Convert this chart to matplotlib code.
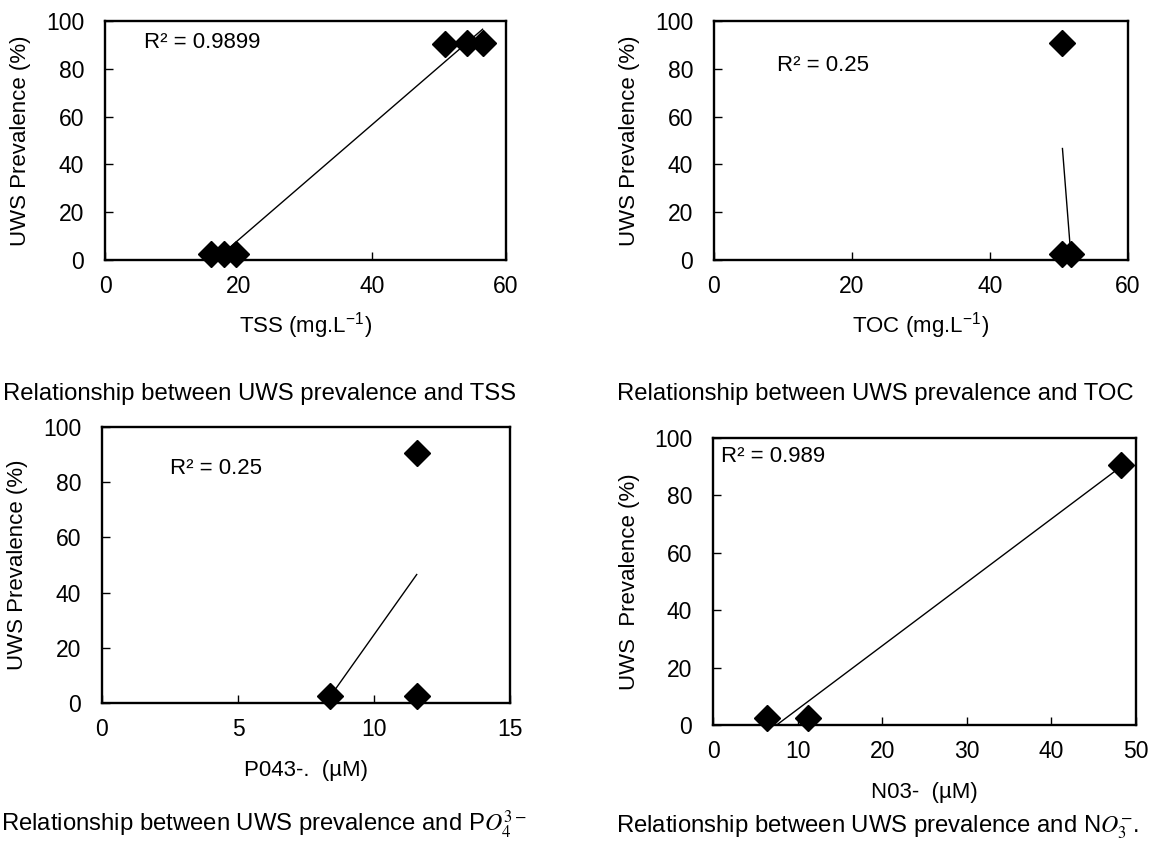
import numpy as np
import matplotlib
matplotlib.use("Agg")
import matplotlib.pyplot as plt

plt.rcParams['font.family'] = ['Liberation Sans', 'DejaVu Sans']
plt.rcParams['mathtext.fontset'] = 'stix'

# data
tss = [15.8, 17.8, 19.6, 50.8, 54.2, 56.5]
tss_uws = [2.5, 2.5, 2.5, 90.3, 90.8, 90.8]

toc = [50.5, 50.5, 51.7]
toc_uws = [90.8, 2.5, 2.5]

po4 = [8.4, 11.57, 11.57]
po4_uws = [2.5, 90.6, 2.5]

no3 = [6.4, 11.2, 48.2]
no3_uws = [2.5, 2.5, 90.6]

W, H = 1152, 842
fig = plt.figure(figsize=(W / 100, H / 100), dpi=100)


def add_ax(left, right, top, bottom):
    return fig.add_axes([left / W, 1 - bottom / H, (right - left) / W, (bottom - top) / H])


def panel(ax, x, y, xmax, xstep, xlabel, ylabel, r2, r2pos):
    x = np.array(x)
    y = np.array(y)
    # linear trendline over the data range
    k, b = np.polyfit(x, y, 1)
    xs = np.array([x.min(), x.max()])
    ax.plot(xs, k * xs + b, color='black', lw=1.0, zorder=2)
    ax.plot(x, y, 'D', color='black', ms=13, zorder=3, clip_on=False)
    ax.set_xlim(0, xmax)
    ax.set_ylim(0, 100)
    ax.set_xticks(np.arange(0, xmax + 0.01, xstep))
    ax.set_yticks(np.arange(0, 101, 20))
    ax.tick_params(axis='x', direction='in', length=5.5, width=1, labelsize=16.5, pad=11)
    ax.tick_params(axis='y', direction='in', length=5.5, width=1, labelsize=16.5, pad=15)
    for s in ax.spines.values():
        s.set_linewidth(1.7)
    # label positions in pixels from the spines
    bb = ax.get_position()
    axw, axh = bb.width * W, bb.height * H
    ax.set_xlabel(xlabel, fontsize=16, va='baseline')
    ax.xaxis.set_label_coords(0.5, -73 / axh)
    ax.set_ylabel(ylabel, fontsize=16, va='center', ha='center')
    ax.yaxis.set_label_coords(-84 / axw, 0.5)
    ax.text(r2pos[0], r2pos[1], r2, fontsize=16, va='center', ha='left')


ax1 = add_ax(105, 506, 21, 260)
panel(ax1, tss, tss_uws, 60, 20, r"TSS (mg.L$^{\mathregular{-1}}$)",
      "UWS Prevalence (%)", "R² = 0.9899", (5.8, 91))

ax2 = add_ax(714, 1128, 21, 260)
panel(ax2, toc, toc_uws, 60, 20, r"TOC (mg.L$^{\mathregular{-1}}$)",
      "UWS Prevalence (%)", "R² = 0.25", (9.1, 81.5))

ax3 = add_ax(102, 510, 427, 703)
panel(ax3, po4, po4_uws, 15, 5, "P043-.  (µM)",
      "UWS Prevalence (%)", "R² = 0.25", (2.5, 85))

ax4 = add_ax(713, 1136, 438, 725)
panel(ax4, no3, no3_uws, 50, 10, "N03-  (µM)",
      "UWS  Prevalence (%)", "R² = 0.989", (0.9, 93.4))

cap = 17.2
fig.text(3 / W, 1 - 400 / H, "Relationship between UWS prevalence and TSS", fontsize=cap, va='baseline')
fig.text(617 / W, 1 - 400 / H, "Relationship between UWS prevalence and TOC", fontsize=cap, va='baseline')
fig.text(1 / W, 1 - 832 / H, r"Relationship between UWS prevalence and P$O_4^{3-}$", fontsize=cap, va='baseline')
fig.text(616 / W, 1 - 832 / H, r"Relationship between UWS prevalence and N$O_3^{-}$.", fontsize=cap, va='baseline')

fig.savefig("out.png", dpi=100)
